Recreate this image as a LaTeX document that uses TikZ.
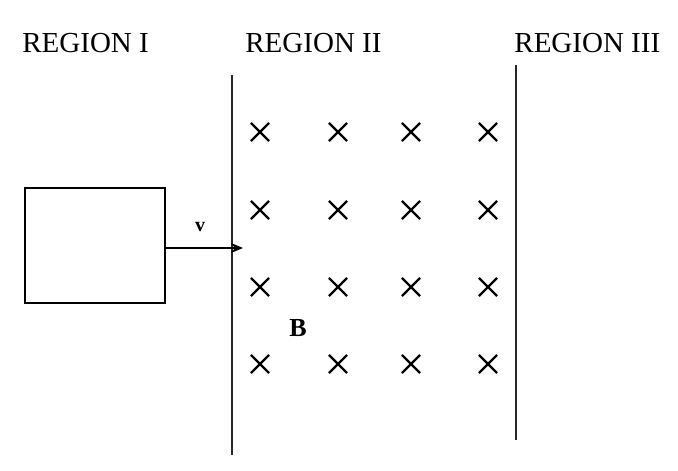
\documentclass[tikz,border=0pt]{standalone}
\usepackage{fontspec}
\setmainfont{Liberation Serif}
\usetikzlibrary{shapes.misc}
\usetikzlibrary{arrows.meta}
\tikzstyle{regionlabel}=[anchor=base west, inner sep=0, font=\fontsize{14.5}{16}\selectfont]
\tikzstyle{boundary}=[line width=1pt, black!85]
\tikzstyle{fieldmark}=[cross out, draw, line width=1.1pt, inner sep=0, minimum size=8pt]
\tikzstyle{loop}=[draw, line width=1pt, inner sep=0, minimum width=70pt, minimum height=57.5pt]

\begin{document}
\begin{tikzpicture}[x=0.5pt, y=-0.5pt]
        \useasboundingbox (0, 0) rectangle (678, 470);
        % region titles
        \node[regionlabel] (R1) at (22, 53) {REGION I};
        \node[regionlabel] (R2) at (245, 53) {REGION II};
        \node[regionlabel] (R3) at (514, 53) {REGION III};
        % field boundaries
        \coordinate (L1) at (232, 75);
        \coordinate (L2) at (232, 455);
        \coordinate (M1) at (516, 65);
        \coordinate (M2) at (516, 440);
        \draw[boundary] (L1) -- (L2);
        \draw[boundary] (M1) -- (M2);
        % the loop and its velocity
        \node[loop] (box) at (95, 245.5) {};
        \coordinate (tip) at (243, 248);
        \draw[line width=1pt, -{Stealth[length=6pt, width=5pt]}] (box.east |- tip) -- (tip);
        \node[font=\bfseries\fontsize{10}{12}\selectfont] (v) at (200, 227) {v};
        % field into the page
        \foreach \i/\x in {1/260, 2/338, 3/411, 4/488}
            \foreach \j/\y in {1/132, 2/210, 3/287, 4/364}
                \node[fieldmark] (x\i\j) at (\x, \y) {};
        \node[font=\bfseries\fontsize{13}{15}\selectfont] (B) at (298, 328) {B};
    \end{tikzpicture}
\end{document}
